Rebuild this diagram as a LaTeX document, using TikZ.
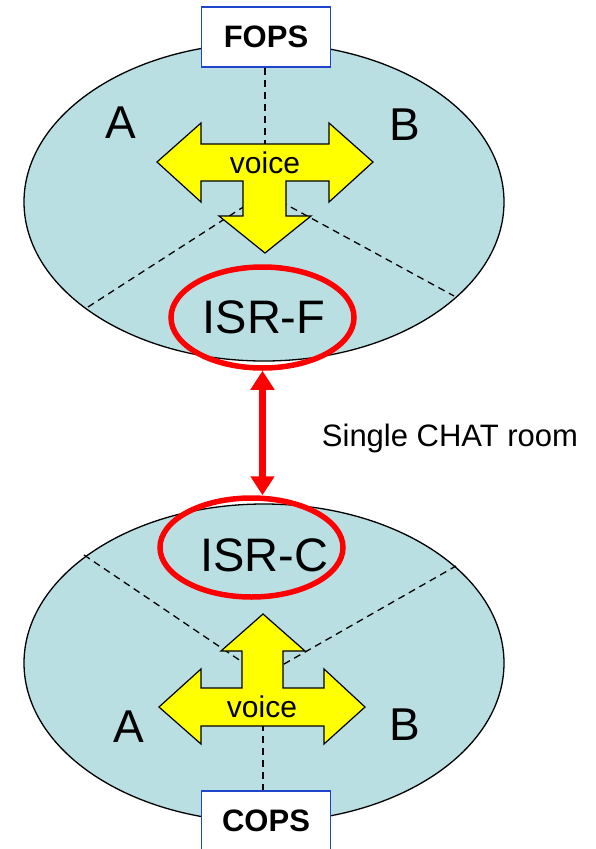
\documentclass[tikz,border=0pt]{standalone}
\usepackage{fontspec}
\setmainfont{Liberation Sans}
\usetikzlibrary{shapes.geometric,arrows.meta}
\definecolor{poolfill}{HTML}{BADFE2}
\definecolor{boxblue}{HTML}{1F45CC}
\definecolor{voiceyellow}{HTML}{FFFF00}
\begin{document}
\begin{tikzpicture}[x=1pt,y=-1pt,
  pool/.style={ellipse,draw=black,line width=1.3pt,fill=poolfill,minimum width=480pt,minimum height=318pt,inner sep=0pt},
  ring/.style={ellipse,draw=red,line width=5.5pt,minimum width=183pt,inner sep=0pt},
  opsbox/.style={draw=boxblue,fill=white,line width=1.5pt,minimum width=129pt,minimum height=60pt,inner sep=0pt,font=\fontsize{31}{31}\selectfont\bfseries},
  divider/.style={draw=black,line width=1.3pt,dash pattern=on 7pt off 5pt},
  bigarrow/.style={draw=black,line width=1.2pt,fill=voiceyellow,line join=miter},
  letter/.style={anchor=base,inner sep=0pt,font=\fontsize{46}{46}\selectfont},
  isrtext/.style={anchor=base,inner sep=0pt,font=\fontsize{47}{47}\selectfont},
  voicetext/.style={anchor=base,inner sep=0pt,font=\fontsize{30}{30}\selectfont},
  chat/.style={draw=red,line width=6.5pt,{Triangle[width=23pt,length=19pt]}-{Triangle[width=23pt,length=19pt]}}
]
\useasboundingbox (0,0) rectangle (596,849);

% pools
\node[pool] (topE) at (264,202) {};
\node[pool] (botE) at (264,663) {};

% divider points
\coordinate (tc) at (265,193);
\coordinate (tl) at (88,307);
\coordinate (tr) at (454,296);
\coordinate (bc) at (263,676);
\coordinate (bl) at (84,555);
\coordinate (br) at (456,566);

% boxes
\node[opsbox] (fops) at (266,37) {FOPS};
\node[opsbox] (cops) at (266,821) {COPS};

% dashed dividers
\draw[divider] (fops.south -| tc) -- (tc);
\draw[divider] (tl) -- (tc) -- (tr);
\draw[divider] (bl) -- (bc) -- (br);
\draw[divider] (bc) -- (cops.north -| bc);

% yellow arrows
\draw[bigarrow] (157,162) -- (201,123) -- (201,144) -- (329,144) -- (329,123) -- (373,162)
  -- (329,202) -- (329,181) -- (286,181) -- (286,216) -- (311,216) -- (265,253) -- (219,216)
  -- (243,216) -- (243,181) -- (201,181) -- (201,202) -- cycle;
\draw[bigarrow] (159,707) -- (201,669) -- (201,688) -- (242,688) -- (242,651) -- (221,651)
  -- (263,614) -- (305,651) -- (283,651) -- (283,688) -- (324,688) -- (324,669) -- (365,707)
  -- (324,744) -- (324,726) -- (201,726) -- (201,744) -- cycle;

\node[voicetext] (v1) at (265,173) {voice};
\node[voicetext] (v2) at (262,717) {voice};

% letters
\node[letter] (a1) at (121,138) {A};
\node[letter] (b1) at (405,140) {B};
\node[letter] (a2) at (129,742) {A};
\node[letter] (b2) at (405,740) {B};

% ISR rings
\node[ring,minimum height=101pt] (isrf) at (262.5,317.5) {};
\node[ring,minimum height=99pt] (isrc) at (251.5,547.5) {};
\node[isrtext] (isrftext) at (264,333) {ISR-F};
\node[isrtext] (isrctext) at (264,571) {ISR-C};

% chat link
\draw[chat] (isrf.south) -- (isrf.south |- isrc.north);
\node[anchor=base,inner sep=0pt,font=\fontsize{31}{31}\selectfont] (chatlabel) at (450,446) {Single CHAT room};
\end{tikzpicture}
\end{document}
